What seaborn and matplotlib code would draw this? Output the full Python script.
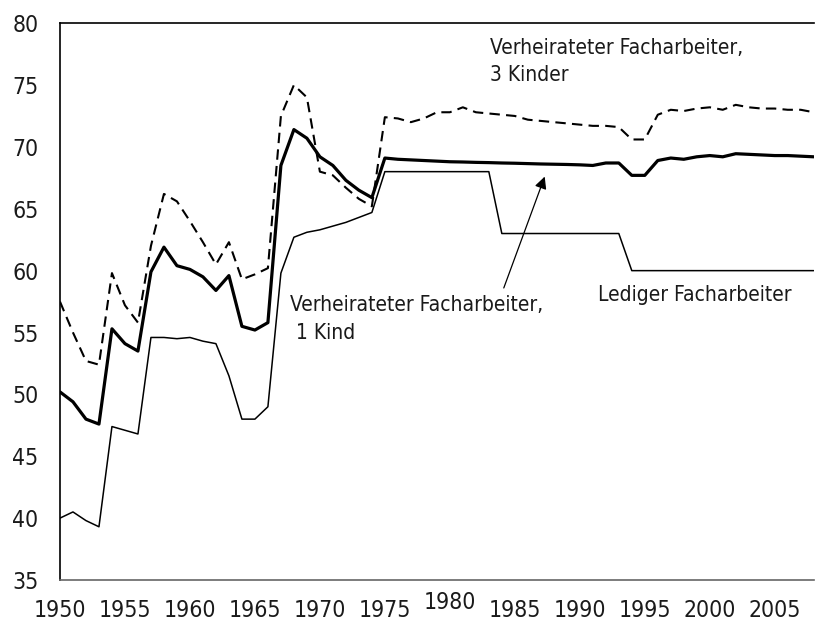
import matplotlib
matplotlib.use("Agg")
import matplotlib.pyplot as plt
from matplotlib import font_manager
import numpy as np
import pandas as pd
import seaborn as sns

years = list(range(1950, 2009))

# Lediger Facharbeiter
ledig = [40.0, 40.5, 39.8, 39.3, 47.4, 47.1, 46.8, 54.6, 54.6, 54.5,
         54.6, 54.3, 54.1, 51.5, 48.0, 48.0, 49.0, 59.8, 62.7, 63.1,
         63.3, 63.6, 63.9, 64.3, 64.7, 68.0, 68.0, 68.0, 68.0, 68.0,
         68.0, 68.0, 68.0, 68.0, 63.0, 63.0, 63.0, 63.0, 63.0, 63.0,
         63.0, 63.0, 63.0, 63.0, 60.0, 60.0, 60.0, 60.0, 60.0, 60.0,
         60.0, 60.0, 60.0, 60.0, 60.0, 60.0, 60.0, 60.0, 60.0]

# Verheirateter Facharbeiter, 1 Kind
kind1 = [50.2, 49.4, 48.0, 47.6, 55.3, 54.1, 53.5, 59.9, 61.9, 60.4,
         60.1, 59.5, 58.4, 59.6, 55.5, 55.2, 55.8, 68.5, 71.4, 70.7,
         69.2, 68.5, 67.3, 66.5, 65.9, 69.1, 69.0, 68.95, 68.9, 68.85,
         68.8, 68.78, 68.75, 68.73, 68.7, 68.68, 68.65, 68.62, 68.6, 68.58,
         68.55, 68.5, 68.7, 68.7, 67.7, 67.7, 68.9, 69.1, 69.0, 69.2,
         69.3, 69.2, 69.45, 69.4, 69.35, 69.3, 69.3, 69.25, 69.2]

# Verheirateter Facharbeiter, 3 Kinder
kind3 = [57.5, 55.0, 52.7, 52.4, 59.8, 57.2, 55.8, 62.0, 66.2, 65.6,
         64.0, 62.3, 60.5, 62.3, 59.3, 59.7, 60.2, 72.5, 75.0, 74.0,
         68.0, 67.7, 66.7, 65.8, 65.2, 72.4, 72.3, 72.0, 72.3, 72.8,
         72.8, 73.2, 72.8, 72.7, 72.6, 72.5, 72.2, 72.1, 72.0, 71.9,
         71.8, 71.7, 71.7, 71.6, 70.6, 70.6, 72.6, 73.0, 72.9, 73.1,
         73.2, 73.0, 73.4, 73.2, 73.1, 73.1, 73.0, 73.0, 72.8]

x_ticks = list(range(1950, 2010, 5))
y_ticks = list(range(35, 85, 5))

sns.set_theme(style="white")

# pick a narrow sans if one is installed, otherwise plain Liberation Sans
installed = {(f.name, str(f.stretch)) for f in font_manager.fontManager.ttflist}
names = {n for n, _ in installed}
if "Liberation Sans Narrow" in names:
    plt.rcParams["font.family"] = ["Liberation Sans Narrow", "DejaVu Sans"]
    tick_fs, text_fs = 19, 18
elif ("DejaVu Sans", "condensed") in installed:
    plt.rcParams["font.family"] = ["DejaVu Sans"]
    plt.rcParams["font.stretch"] = "condensed"
    tick_fs, text_fs = 16.5, 15
else:
    plt.rcParams["font.family"] = ["Liberation Sans", "DejaVu Sans"]
    tick_fs, text_fs = 15.5, 15

fig = plt.figure(figsize=(8.17, 6.26), dpi=100)
ax = fig.add_axes([0.0734, 0.0735, 0.9226, 0.8895])

df = pd.DataFrame({"Jahr": years, "ledig": ledig, "kind1": kind1, "kind3": kind3})

sns.lineplot(data=df, x="Jahr", y="ledig", ax=ax, color="black", linewidth=1.1)
sns.lineplot(data=df, x="Jahr", y="kind1", ax=ax, color="black", linewidth=2.3)
sns.lineplot(data=df, x="Jahr", y="kind3", ax=ax, color="black", linewidth=1.5)
ax.lines[-1].set_dashes((5, 3))

ax.set_xlim(1950, 2008)
ax.set_ylim(35, 80)
ax.set_xticks(x_ticks)
ax.set_yticks(y_ticks)
ax.set_xlabel("")
ax.set_ylabel("")

ax.set_xticklabels(["" if t == 1980 else str(t) for t in x_ticks])
# the 1980 label sits a bit higher in the original
ax.text(1980, -0.02, "1980", transform=ax.get_xaxis_transform(),
        ha="center", va="top", fontsize=tick_fs, color="#1a1a1a")

ax.tick_params(axis="both", which="major", labelsize=tick_fs, colors="#1a1a1a",
               length=7.5, width=1, direction="out")
ax.tick_params(axis="x", color="#777777", pad=6)
ax.tick_params(axis="y", color="#777777", pad=8)

for side in ["left", "top"]:
    ax.spines[side].set_color("black")
    ax.spines[side].set_linewidth(1.2)
ax.spines["bottom"].set_color("#666666")
ax.spines["bottom"].set_linewidth(1.2)
ax.spines["right"].set_visible(False)

ax.text(1983.1, 78.8, "Verheirateter Facharbeiter,\n3 Kinder", fontsize=text_fs,
        ha="left", va="top", color="#1a1a1a", linespacing=1.45)
ax.text(1991.4, 58.0, "Lediger Facharbeiter", fontsize=text_fs,
        ha="left", va="center", color="#1a1a1a")
ax.text(1967.7, 58.0, "Verheirateter Facharbeiter,\n 1 Kind", fontsize=text_fs,
        ha="left", va="top", color="#1a1a1a", linespacing=1.45)

ax.annotate("", xy=(1987.3, 67.6), xytext=(1984.15, 58.6),
            arrowprops=dict(arrowstyle="-|>", color="black", lw=0.9,
                            mutation_scale=18, shrinkA=0, shrinkB=0))

fig.savefig("out.png", dpi=100)
